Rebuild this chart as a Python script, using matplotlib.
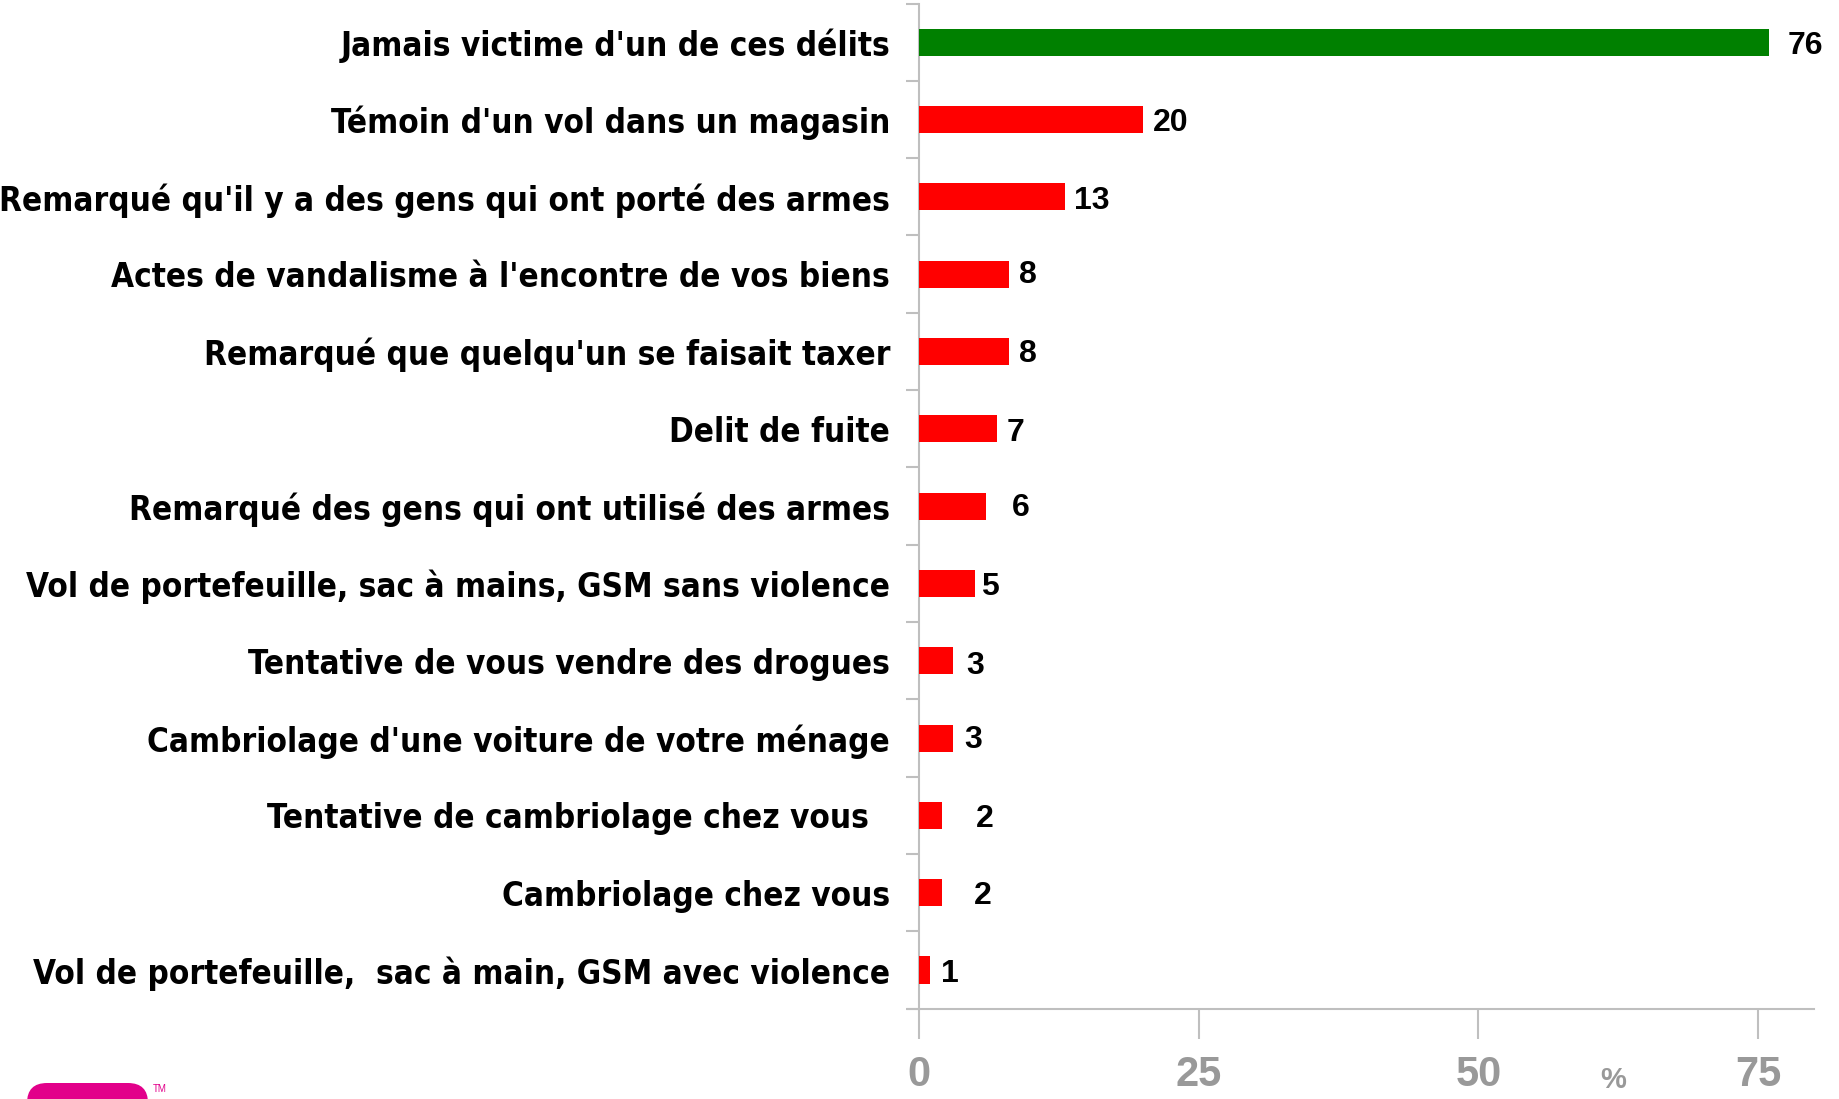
import matplotlib
matplotlib.use('Agg')
import matplotlib.pyplot as plt
import matplotlib.font_manager as fm
from matplotlib.patches import FancyBboxPatch
from matplotlib.transforms import IdentityTransform
import numpy as np

categories = [
    "Jamais victime d'un de ces délits",
    "Témoin d'un vol dans un magasin",
    "Remarqué qu'il y a des gens qui ont porté des armes",
    "Actes de vandalisme à l'encontre de vos biens",
    "Remarqué que quelqu'un se faisait taxer",
    "Delit de fuite",
    "Remarqué des gens qui ont utilisé des armes",
    "Vol de portefeuille, sac à mains, GSM sans violence",
    "Tentative de vous vendre des drogues",
    "Cambriolage d'une voiture de votre ménage",
    "Tentative de cambriolage chez vous  ",
    "Cambriolage chez vous",
    "Vol de portefeuille,  sac à main, GSM avec violence",
]
values = [76, 20, 13, 8, 8, 7, 6, 5, 3, 3, 2, 2, 1]
xticks = [0, 25, 50, 75]
highlight_index = 0

# manual label nudges (pixels) as in the original
label_dx = [18, 10, 9, 10, 10, 9, 26, 6, 14, 12, 34, 32, 11]
label_dy = [0, 0, -1, 3, 1, -1, 2, 0, -2, 2, 0, 0, 0]

# ---- font selection: prefer a narrow / condensed bold face ----
def find_condensed():
    best = None
    for f in fm.fontManager.ttflist:
        nm = f.name.lower()
        fn = f.fname.lower()
        st = str(f.stretch).lower()
        if not ('narrow' in nm or 'condensed' in nm or 'narrow' in fn
                or 'condensed' in fn or 'condensed' in st):
            continue
        if 'oblique' in fn or 'italic' in fn or f.style != 'normal':
            continue
        w = f.weight if isinstance(f.weight, int) else (700 if 'bold' in str(f.weight) else 400)
        score = 0
        if w >= 600 or 'bold' in fn:
            score += 10
        if 'liberation' in nm or 'arial' in nm:
            score += 5
        if 'extra' in fn or 'semi' in fn or 'black' in fn or 'light' in fn:
            score -= 3
        if best is None or score > best[0]:
            best = (score, f.fname)
    return best[1] if best else None

cond = find_condensed()
if cond:
    label_fp = fm.FontProperties(fname=cond)
else:
    label_fp = fm.FontProperties(family=['Liberation Sans', 'DejaVu Sans'], weight='bold')

plt.rcParams['font.family'] = ['Liberation Sans', 'DejaVu Sans']
plt.rcParams['font.weight'] = 'bold'

W, H = 1839, 1099
fig = plt.figure(figsize=(W / 100, H / 100), dpi=100)
fig.patch.set_facecolor('white')
ax = fig.add_axes([908 / W, 0.0822, (1814 - 908) / W, 0.9146])

n = len(values)
ypos = np.arange(n)
colors = ['#008000' if i == highlight_index else '#FF0000' for i in range(n)]
ax.barh(ypos, values, height=0.35, color=colors, zorder=3)

ax.set_xlim(-1, 80)
ax.set_ylim(n - 0.5, -0.5)

for s in ['top', 'right']:
    ax.spines[s].set_visible(False)
ax.spines['left'].set_position(('data', 0))
for s in ['left', 'bottom']:
    ax.spines[s].set_color('#BFBFBF')
    ax.spines[s].set_linewidth(1.5)

ax.set_yticks(ypos)
ax.set_yticklabels(categories)
ax.set_yticks(np.arange(-0.5, n, 1.0), minor=True)
ax.tick_params(axis='y', which='major', length=0, pad=21)
ax.tick_params(axis='y', which='minor', length=9.5, width=1.5, color='#BFBFBF')

ax.set_xticks(xticks)
ax.set_xticklabels([str(t) for t in xticks])
ax.tick_params(axis='x', which='major', length=21.6, width=1.5, color='#BFBFBF',
               pad=12, labelcolor='#999999', labelsize=30)

ylabels = ax.get_yticklabels()
for lab in ylabels:
    lab.set_fontproperties(label_fp)
    lab.set_fontsize(28)
for lab in ax.get_xticklabels():
    lab.set_fontweight('bold')

# fit category label size to the width seen in the original
fig.canvas.draw()
r = fig.canvas.get_renderer()
w0 = ylabels[0].get_window_extent(r).width
ysize = min(28 * 549.0 / w0, 29.5)
for lab in ylabels:
    lab.set_fontsize(ysize)

for i, v in enumerate(values):
    ax.annotate(str(v), xy=(v, i), xytext=(label_dx[i], label_dy[i]),
                textcoords='offset pixels', ha='left', va='center_baseline',
                fontsize=23, fontweight='bold', color='black')

fig.text(1613 / W, 1 - 1066 / H, '%', ha='center', va='top', fontsize=21,
         fontweight='bold', color='#999999')

# partial logo at bottom-left
logo = FancyBboxPatch((27, -40), 121, 56, boxstyle='round,pad=0,rounding_size=20',
                      transform=IdentityTransform(), facecolor='#E2008A',
                      edgecolor='none')
fig.patches.append(logo)
fig.text(153 / W, 1 - 1084 / H, 'TM', ha='left', va='top', fontsize=7,
         color='#E2008A', fontweight='normal')

fig.savefig('out.png', dpi=100, facecolor='white')
